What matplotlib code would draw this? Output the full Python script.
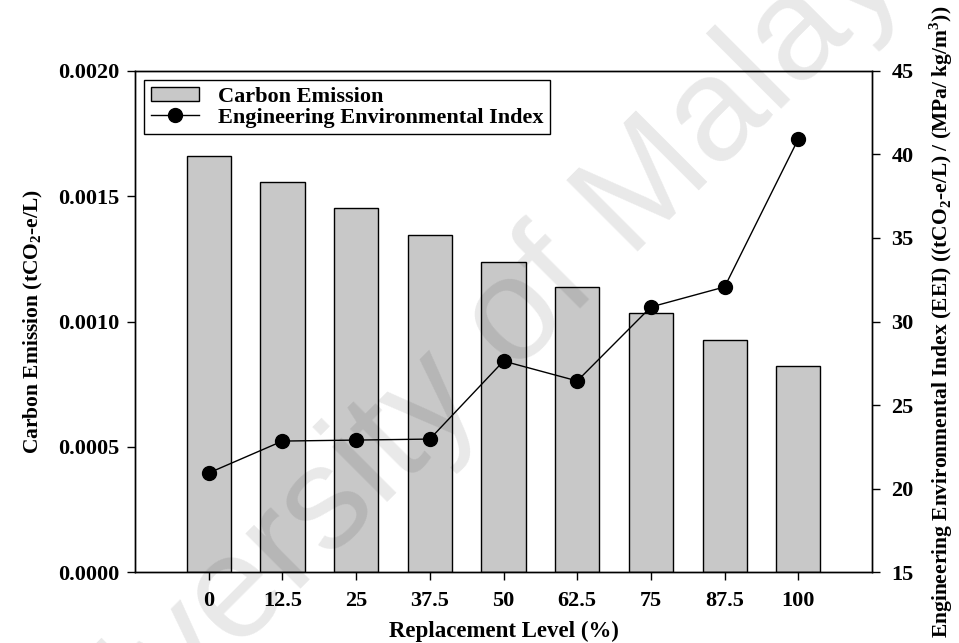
import matplotlib.pyplot as plt
from matplotlib.patches import Patch
from matplotlib.lines import Line2D

plt.rcParams['font.family'] = 'Liberation Serif'
plt.rcParams['font.weight'] = 'bold'
plt.rcParams['mathtext.fontset'] = 'custom'
plt.rcParams['mathtext.rm'] = 'Liberation Serif'

levels = ["0", "12.5", "25", "37.5", "50", "62.5", "75", "87.5", "100"]
carbon = [0.001661, 0.001557, 0.001453, 0.001345, 0.001238, 0.001138, 0.001034, 0.000926, 0.000822]
eei = [20.93, 22.84, 22.90, 22.96, 27.63, 26.44, 30.87, 32.07, 40.93]

fig = plt.figure(figsize=(9.59, 6.43), dpi=100)
ax = fig.add_axes([0.1408, 0.1104, 0.7685, 0.7792])
x = range(len(levels))

ax.bar(x, carbon, width=0.6, color='#c8c8c8', edgecolor='black', linewidth=1, zorder=2)
ax.set_xlim(-1, 9)
ax.set_ylim(0, 0.002)
ax.set_yticks([0, 0.0005, 0.001, 0.0015, 0.002])
ax.set_yticklabels(["0.0000", "0.0005", "0.0010", "0.0015", "0.0020"])
ax.set_xticks(list(x))
ax.set_xticklabels(levels)
ax.tick_params(axis='both', direction='out', length=6, width=1, labelsize=16, pad=5)
ax.tick_params(axis='x', pad=8)
ax.set_xlabel("Replacement Level (%)", fontsize=16.5, fontweight='bold', labelpad=7)
ax.set_ylabel("Carbon Emission (tCO$_\\mathregular{2}$-e/L)", fontsize=15.5, fontweight='bold', labelpad=10)

ax2 = ax.twinx()
ax2.plot(x, eei, color='black', linewidth=1, marker='o', markersize=10, zorder=3)
ax2.set_ylim(15, 45)
ax2.set_yticks([15, 20, 25, 30, 35, 40, 45])
ax2.tick_params(axis='y', direction='out', length=6, width=1, labelsize=16, pad=8)
ax2.set_ylabel("Engineering Environmental Index (EEI) ((tCO$_\\mathregular{2}$-e/L) / (MPa/ kg/m$^\\mathregular{3}$))",
               fontsize=15.5, fontweight='bold', labelpad=10)

for a in (ax, ax2):
    for s in a.spines.values():
        s.set_linewidth(1)

handles = [Patch(facecolor='#c8c8c8', edgecolor='black', linewidth=1),
           Line2D([0], [0], color='black', linewidth=1, marker='o', markersize=10)]
leg = ax2.legend(handles, ["Carbon Emission", "Engineering Environmental Index"],
                 loc='upper left', bbox_to_anchor=(0.012, 0.982), fontsize=16,
                 fancybox=False, edgecolor='black', framealpha=1,
                 handlelength=2.2, handleheight=0.6, labelspacing=0.05,
                 borderpad=0.3, handletextpad=0.85, borderaxespad=0)
leg.get_frame().set_linewidth(1)

# watermark
fig.text(0.49, 0.43, "University of Malaya", fontsize=106, family='Liberation Sans',
         color='black', alpha=0.09, rotation=45, ha='center', va='center',
         rotation_mode='anchor', fontweight='normal', zorder=10)

fig.savefig("out.png", dpi=100)
